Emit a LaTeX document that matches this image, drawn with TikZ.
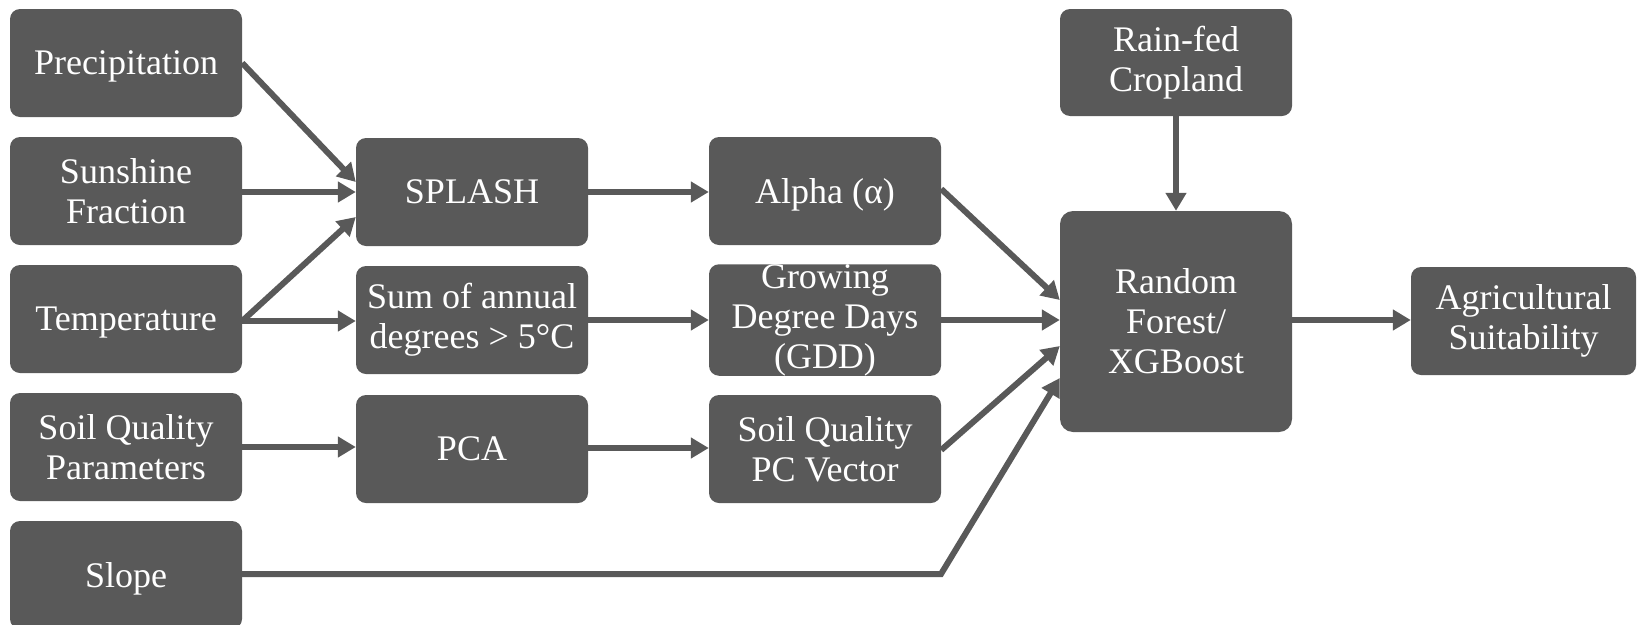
\documentclass[tikz,border=0pt]{standalone}
\usepackage{fontspec}
\setmainfont{Liberation Serif}
\usetikzlibrary{arrows.meta}
\definecolor{boxgray}{RGB}{89,89,89}
\tikzset{
  box/.style={draw=none, fill=boxgray, rounded corners=10pt, text=white,
    align=center, inner sep=0pt, minimum width=232pt, minimum height=108pt,
    font=\fontsize{36}{40}\selectfont},
  oneline/.style={text depth=0pt},
  arr/.style={draw=boxgray, line width=6pt, line join=miter,
    -{Triangle[length=18pt,width=20pt]}}
}
\begin{document}
\begin{tikzpicture}[x=1pt,y=-1pt]
\useasboundingbox (0,0) rectangle (1637,624);
% column 1
\node[box, oneline] (prec)  at (126,63)  {Precipitation};
\node[box] (sun)   at (126,191) {Sunshine\\Fraction};
\node[box, oneline] (temp)  at (126,319) {Temperature};
\node[box] (soil)  at (126,447) {Soil Quality\\Parameters};
\node[box, oneline] (slope) at (126,575) {Slope};
% column 2
\node[box, oneline] (splash) at (472,192) {SPLASH};
\node[box] (sum)    at (472,320) {Sum of annual\\degrees > 5°C};
\node[box, oneline] (pca)    at (472,449) {PCA};
% column 3
\node[box, oneline] (alpha) at (825,191) {Alpha (α)};
\node[box] (gdd)   at (825,320) {Growing\\Degree Days\\(GDD)};
\node[box] (spc)   at (825,449) {Soil Quality\\PC Vector};
% column 4
\node[box, minimum height=107pt] (rain) at (1176,62.5) {Rain-fed\\Cropland};
\node[box, minimum height=221pt, rounded corners=13pt] (rf) at (1176,321.5) {Random\\Forest/\\XGBoost};
% column 5
\node[box, minimum width=225pt] (agri) at (1523.5,321) {Agricultural\\Suitability};
\coordinate (bend) at (941,574);
% connectors
\draw[arr] (prec.east) -- (splash.west |- 0,182);
\draw[arr] (sun.east |- 0,192) -- (splash.west |- 0,192);
\draw[arr] (temp.east |- 0,321) -- (splash.west |- 0,217);
\draw[arr] (temp.east |- 0,321) -- (sum.west |- 0,321);
\draw[arr] (soil.east |- 0,447) -- (pca.west |- 0,447);
\draw[arr] (splash.east |- 0,192) -- (alpha.west |- 0,192);
\draw[arr] (sum.east |- 0,320) -- (gdd.west |- 0,320);
\draw[arr] (pca.east |- 0,448) -- (spc.west |- 0,448);
\draw[arr] (alpha.east |- 0,189) -- (rf.west |- 0,300);
\draw[arr] (gdd.east |- 0,320) -- (rf.west |- 0,320);
\draw[arr] (spc.east |- 0,450) -- (rf.west |- 0,346);
\draw[arr] (slope.east |- 0,574) -- (bend) -- (rf.west |- 0,378);
\draw[arr] (rain) -- (rf);
\draw[arr] (rf.east |- 0,320) -- (agri.west |- 0,320);
\end{tikzpicture}
\end{document}
